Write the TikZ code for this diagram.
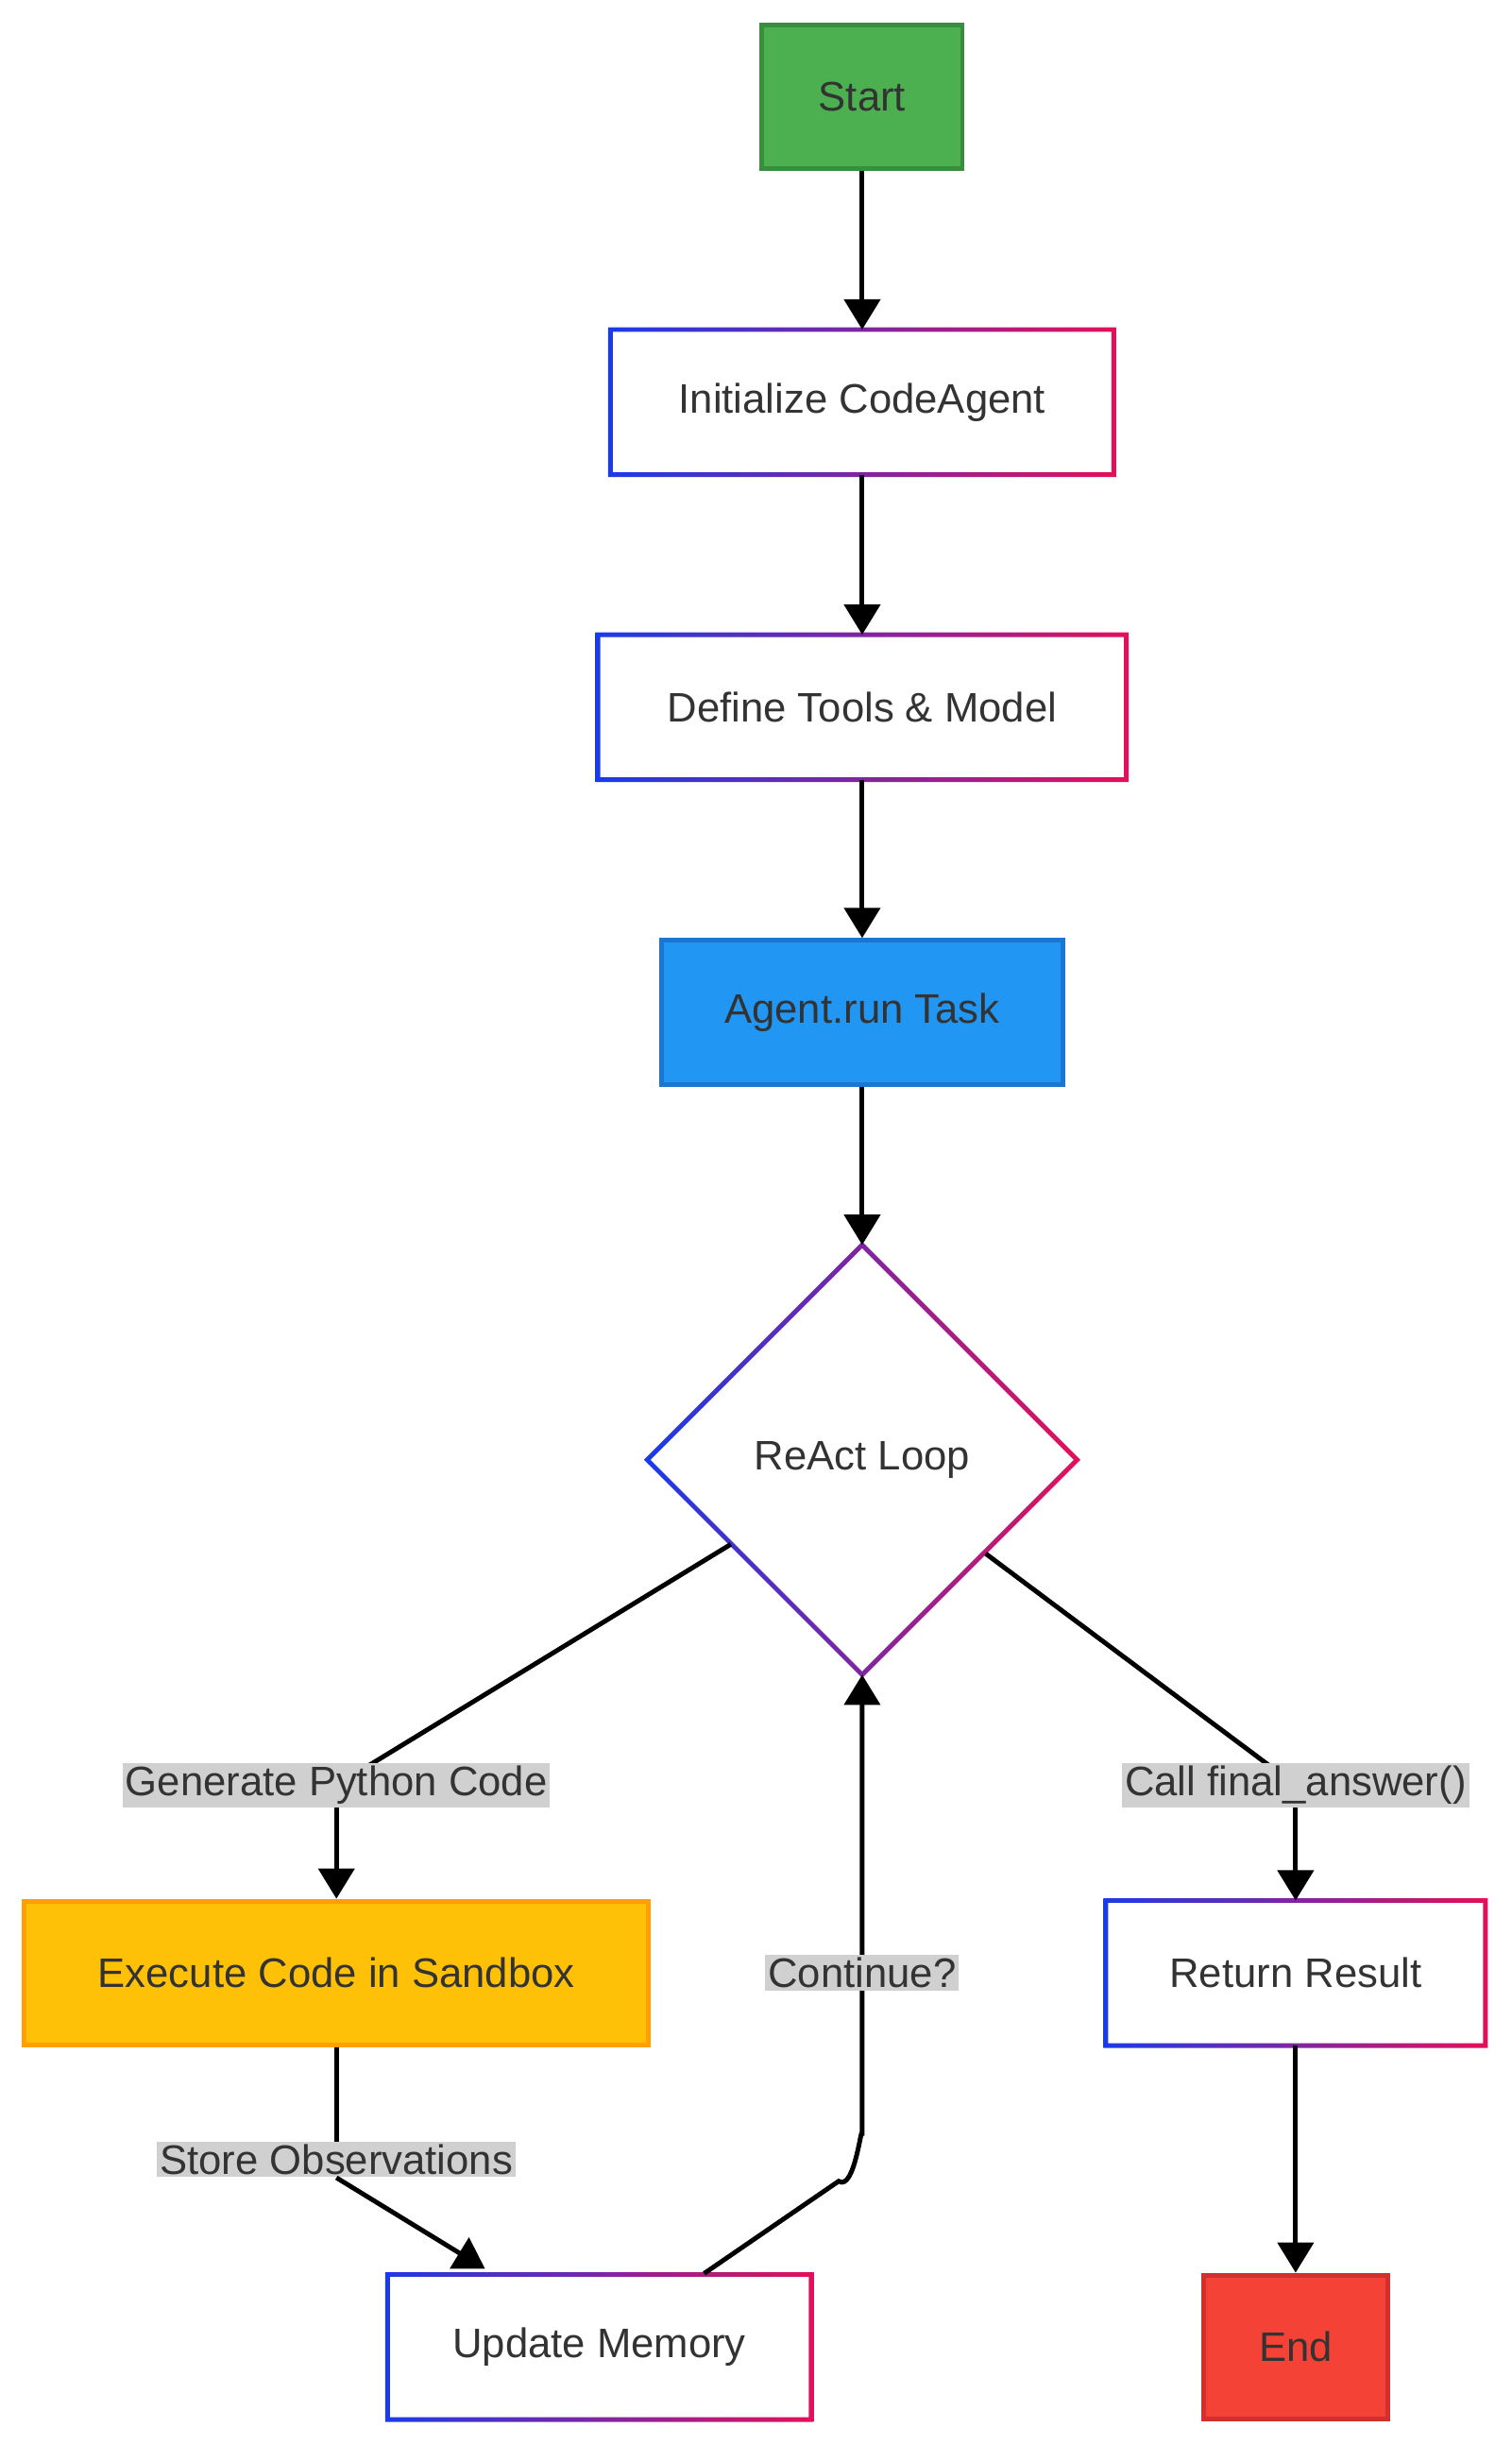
\documentclass[tikz,border=0pt]{standalone}
\usepackage{fontspec}
\setmainfont{Liberation Sans}
\usetikzlibrary{shapes.geometric,arrows.meta}
\definecolor{gb}{HTML}{1A3BE8}
\definecolor{gr}{HTML}{E3105A}
\definecolor{txt}{HTML}{333333}
\definecolor{lbl}{HTML}{D0D0D0}
\definecolor{gf}{HTML}{4CAF50}\definecolor{gd}{HTML}{388E3C}
\definecolor{bf}{HTML}{2196F3}\definecolor{bd}{HTML}{1976D2}
\definecolor{yf}{HTML}{FFC107}\definecolor{yd}{HTML}{FFA000}
\definecolor{rf}{HTML}{F44336}\definecolor{rd}{HTML}{D32F2F}
\tikzset{
  box/.style={rectangle, inner sep=0, text=txt, font=\fontsize{15}{18}\selectfont},
  filled/.style={box, line width=1.7pt},
  grad/.style={box},
  lab/.style={fill=lbl, text=txt, inner sep=1pt, font=\fontsize{15}{18}\selectfont},
  edge/.style={line width=1.7pt, black},
  arr/.style={edge, -{Triangle[length=11pt,width=13pt]}},
}
\newcommand{\gradframe}[1]{%
  \shade[even odd rule, left color=gb, right color=gr]
    ([xshift=-0.85pt,yshift=-0.85pt]#1.south west) rectangle ([xshift=0.85pt,yshift=0.85pt]#1.north east)
    ([xshift=0.85pt,yshift=0.85pt]#1.south west) rectangle ([xshift=-0.85pt,yshift=-0.85pt]#1.north east);}
\begin{document}
\begin{tikzpicture}[x=0.02cm,y=-0.02cm]
\useasboundingbox (0,0) rectangle (966,1562);
\node[filled, fill=gf, draw=gd, minimum width=128*0.02cm, minimum height=92*0.02cm] (start) at (551,62) {Start};
\node[grad, minimum width=321*0.02cm, minimum height=92*0.02cm] (init) at (551,257) {Initialize CodeAgent};
\node[grad, minimum width=337*0.02cm, minimum height=92*0.02cm] (def) at (551,452) {Define Tools \& Model};
\node[filled, fill=bf, draw=bd, minimum width=257*0.02cm, minimum height=92*0.02cm] (agent) at (551,647) {Agent.run Task};
\node[diamond, inner sep=0, minimum width=274*0.02cm, minimum height=274*0.02cm, text=txt, font=\fontsize{15}{18}\selectfont] (loop) at (551,933) {ReAct Loop};
\node[filled, fill=yf, draw=yd, minimum width=399*0.02cm, minimum height=92*0.02cm] (exec) at (215,1261) {Execute Code in Sandbox};
\node[grad, minimum width=242*0.02cm, minimum height=92*0.02cm] (ret) at (828,1261) {Return Result};
\node[grad, minimum width=270*0.02cm, minimum height=92*0.02cm] (mem) at (383,1500) {Update Memory};
\node[filled, fill=rf, draw=rd, minimum width=118*0.02cm, minimum height=92*0.02cm] (end) at (828,1500) {End};
\gradframe{init}\gradframe{def}\gradframe{ret}\gradframe{mem}
\shade[even odd rule, left color=gb, right color=gr]
  ([yshift=1.2pt]loop.north) -- ([xshift=1.2pt]loop.east) -- ([yshift=-1.2pt]loop.south) -- ([xshift=-1.2pt]loop.west) -- cycle
  ([yshift=-1.2pt]loop.north) -- ([xshift=-1.2pt]loop.east) -- ([yshift=1.2pt]loop.south) -- ([xshift=1.2pt]loop.west) -- cycle;
% edges
\draw[arr] (start) -- (init);
\draw[arr] (init) -- (def);
\draw[arr] (def) -- (agent);
\draw[arr] (agent) -- (loop);
\coordinate (g) at (215,1141);
\coordinate (c) at (828,1141);
\coordinate (s) at (215,1380);
\draw[edge] (467,987) -- (g);
\draw[edge] (630,993) -- (c);
\draw[edge] (exec.south) -- (s);
\node[lab] (gl) at (g) {Generate Python Code};
\node[lab] (cl) at (c) {Call final\_answer()};
\node[lab] (sl) at (s) {Store Observations};
\draw[arr] (gl) -- (exec);
\draw[arr] (cl) -- (ret);
\draw[arr] (sl.south) -- (310,1450);
\draw[arr] (450,1453) -- (536,1394) to[out=-34,in=90] (551,1365) -- (loop.south);
\node[lab] (cont) at (551,1261) {Continue?};
\draw[arr] (ret) -- (end);
\end{tikzpicture}
\end{document}
